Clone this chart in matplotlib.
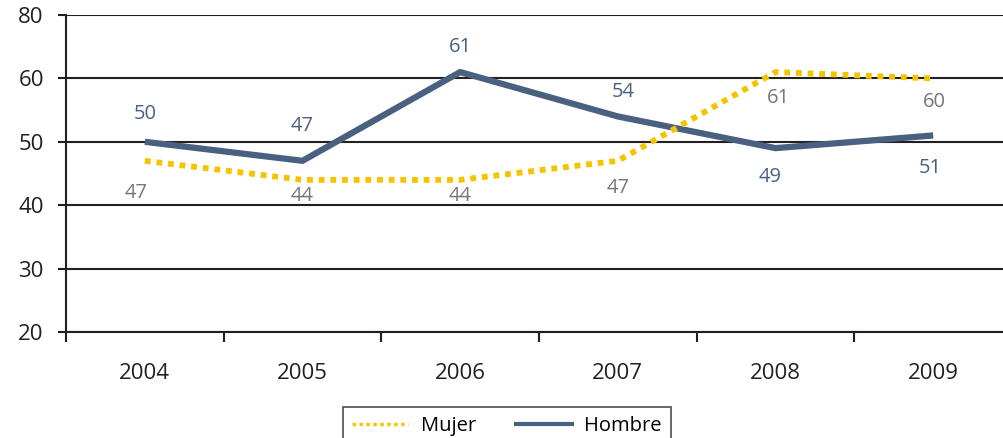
import matplotlib.pyplot as plt
from matplotlib.lines import Line2D

# %% Data
years = ["2004", "2005", "2006", "2007", "2008", "2009"]
mujer = [47, 44, 44, 47, 61, 60]
hombre = [50, 47, 61, 54, 49, 51]
y_ticks = [20, 30, 40, 50, 60, 70]
y_tick_labels = ["20", "30", "40", "50", "60", "80"]

# label offsets (pixels) relative to each point
hombre_off = [(0, 28), (0, 35), (0, 25), (5, 24), (-5, -29), (-3, -33)]
mujer_off = [(-9, -32), (0, -16), (0, -16), (0, -27), (3, -26), (1, -24)]

c_h = "#4a6080"
c_m = "#f5c400"
plt.rcParams["font.family"] = ["Open Sans", "DejaVu Sans"]

fig = plt.figure(figsize=(10.04, 4.38), dpi=100)
ax = fig.add_axes([66 / 1004, 1 - 332 / 438, 946 / 1004, 317 / 438])

x = list(range(len(years)))
ax.plot(x, hombre, color=c_h, lw=4.5, solid_capstyle="butt", zorder=3)
ax.plot(x, mujer, color=c_m, lw=4.2, linestyle=(0, (1, 1)), dash_capstyle="butt", zorder=4)

for i, v in enumerate(hombre):
    ax.annotate(str(v), (i, v), xytext=hombre_off[i], textcoords="offset pixels",
                ha="center", va="center", fontsize=14.5, color=c_h)
for i, v in enumerate(mujer):
    ax.annotate(str(v), (i, v), xytext=mujer_off[i], textcoords="offset pixels",
                ha="center", va="center", fontsize=14.5, color="#777777")

ax.set_xlim(-0.5, 5.5)
ax.set_ylim(20, 70)
ax.set_yticks(y_ticks)
ax.set_yticklabels(y_tick_labels, fontsize=16, color="#231f20")
ax.set_xticks(x)
ax.set_xticklabels(years, fontsize=16, color="#231f20")
ax.set_xticks([i - 0.5 for i in range(len(years) + 1)], minor=True)
ax.tick_params(axis="x", which="major", length=0, pad=22)
ax.tick_params(axis="x", which="minor", length=7, width=1.5, color="#231f20")
ax.tick_params(axis="y", length=6, width=1.5, color="#231f20", pad=10)
ax.grid(axis="y", color="#231f20", lw=1.5)
for s in ["top", "right"]:
    ax.spines[s].set_visible(False)
for s in ["left", "bottom"]:
    ax.spines[s].set_color("#231f20")
    ax.spines[s].set_linewidth(1.5)
ax.set_axisbelow(True)

handles = [
    Line2D([], [], color=c_m, lw=2.5, linestyle=(0, (1, 1))),
    Line2D([], [], color=c_h, lw=3),
]
leg = fig.legend(handles, ["Mujer", "Hombre"], loc="upper left",
                 bbox_to_anchor=(343 / 1004, 1 - 407 / 438), ncol=2,
                 fontsize=14.5, frameon=True, fancybox=False, edgecolor="#231f20",
                 handlelength=2.8, handletextpad=0.6, columnspacing=2.0,
                 borderpad=0.45, borderaxespad=0)
leg.get_frame().set_linewidth(1.2)

fig.savefig("out.png", dpi=100)
